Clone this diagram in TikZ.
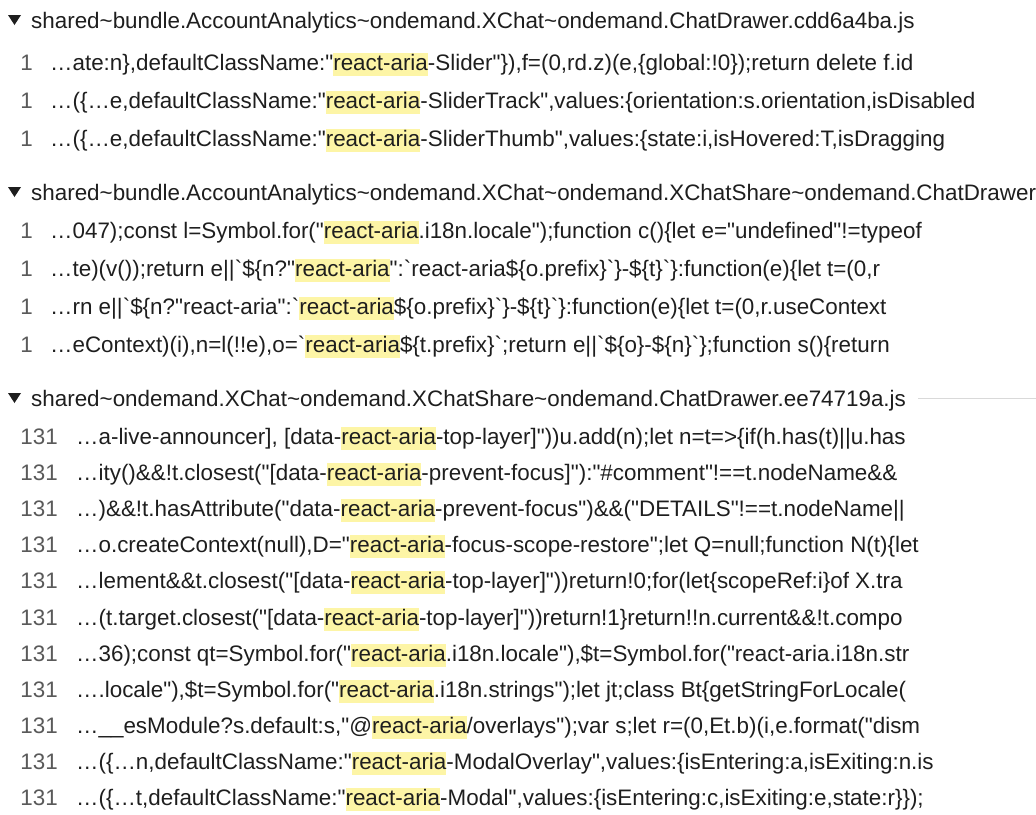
\documentclass[tikz,border=0pt]{standalone}
\usepackage{fontspec}
\newfontfamily\mf{Liberation Sans}
\definecolor{hly}{HTML}{FDF5A6}
\definecolor{txt}{HTML}{1E1E1E}
\definecolor{numc}{HTML}{5A5A5A}
\newcommand\HL[1]{{\setlength{\fboxsep}{0pt}\colorbox{hly}{\rule[-6pt]{0pt}{23pt}#1}}}
\newcommand\tl{\textasciitilde}
\begin{document}
\begin{tikzpicture}[x=1pt,y=-1pt,
  ln/.style={anchor=base west,inner sep=0pt,font=\mf\fontsize{22.4}{26}\selectfont,text=txt},
  num/.style={anchor=base east,inner sep=0pt,font=\mf\fontsize{22.4}{26}\selectfont,text=numc}]
\useasboundingbox (0,0) rectangle (1036,814);
\clip (0,0) rectangle (1036,814);
% group 1
\fill[txt] (8,15) -- (21,15) -- (14.5,25) -- cycle;
\node[ln] (h1) at (31,28) {shared\tl bundle.AccountAnalytics\tl ondemand.XChat\tl ondemand.ChatDrawer.cdd6a4ba.js};
\foreach \y/\t [count=\i] in {70/{…ate:n\},defaultClassName:"\HL{react-aria}-Slider"\}),f=(0,rd.z)(e,\{global:!0\});return delete f.id},
 108/{…(\{…e,defaultClassName:"\HL{react-aria}-SliderTrack",values:\{orientation:s.orientation,isDisabled},
 146/{…(\{…e,defaultClassName:"\HL{react-aria}-SliderThumb",values:\{state:i,isHovered:T,isDragging}}
 {\node[num] (a\i) at (33,\y) {1}; \node[ln] (b\i) at (50,\y) {\t};}
% group 2
\fill[txt] (8,187) -- (21,187) -- (14.5,197) -- cycle;
\node[ln] (h2) at (31,200) {shared\tl bundle.AccountAnalytics\tl ondemand.XChat\tl ondemand.XChatShare\tl ondemand.ChatDrawer};
\foreach \y/\t [count=\i] in {238/{…047);const l=Symbol.for("\HL{react-aria}.i18n.locale");function c()\{let e="undefined"!=typeof},
 276/{…te)(v());return e||`\$\{n?"\HL{react-aria}":`react-aria\$\{o.prefix\}`\}-\$\{t\}`\}:function(e)\{let t=(0,r},
 314/{…rn e||`\$\{n?"react-aria":`\HL{react-aria}\$\{o.prefix\}`\}-\$\{t\}`\}:function(e)\{let t=(0,r.useContext},
 352/{…eContext)(i),n=l(!!e),o=`\HL{react-aria}\$\{t.prefix\}`;return e||`\$\{o\}-\$\{n\}`\};function s()\{return}}
 {\node[num] (c\i) at (33,\y) {1}; \node[ln] (d\i) at (50,\y) {\t};}
% group 3
\fill[txt] (8,393) -- (21,393) -- (14.5,403) -- cycle;
\node[ln] (h3) at (31,406) {shared\tl ondemand.XChat\tl ondemand.XChatShare\tl ondemand.ChatDrawer.ee74719a.js};
\coordinate (s1) at ([xshift=12pt]h3.east |- 0,398);
\coordinate (s2) at (1036,398);
\draw[gray!30,line width=1pt] (s1) -- (s2);
\foreach \y/\t [count=\i] in {444/{…a-live-announcer], [data-\HL{react-aria}-top-layer]"))u.add(n);let n=t=>\{if(h.has(t)||u.has},
 480/{…ity()\&\&!t.closest("[data-\HL{react-aria}-prevent-focus]"):"\#comment"!==t.nodeName\&\&},
 516/{…)\&\&!t.hasAttribute("data-\HL{react-aria}-prevent-focus")\&\&("DETAILS"!==t.nodeName||},
 552/{…o.createContext(null),D="\HL{react-aria}-focus-scope-restore";let Q=null;function N(t)\{let},
 588/{…lement\&\&t.closest("[data-\HL{react-aria}-top-layer]"))return!0;for(let\{scopeRef:i\}of X.tra},
 625/{…(t.target.closest("[data-\HL{react-aria}-top-layer]"))return!1\}return!!n.current\&\&!t.compo},
 661/{…36);const qt=Symbol.for("\HL{react-aria}.i18n.locale"),\$t=Symbol.for("react-aria.i18n.str},
 697/{….locale"),\$t=Symbol.for("\HL{react-aria}.i18n.strings");let jt;class Bt\{getStringForLocale(},
 733/{…\_\_esModule?s.default:s,"@\HL{react-aria}/overlays");var s;let r=(0,Et.b)(i,e.format("dism},
 769/{…(\{…n,defaultClassName:"\HL{react-aria}-ModalOverlay",values:\{isEntering:a,isExiting:n.is},
 805/{…(\{…t,defaultClassName:"\HL{react-aria}-Modal",values:\{isEntering:c,isExiting:e,state:r\}\});}}
 {\node[num] (e\i) at (58,\y) {131}; \node[ln] (f\i) at (76,\y) {\t};}
\end{tikzpicture}
\end{document}
